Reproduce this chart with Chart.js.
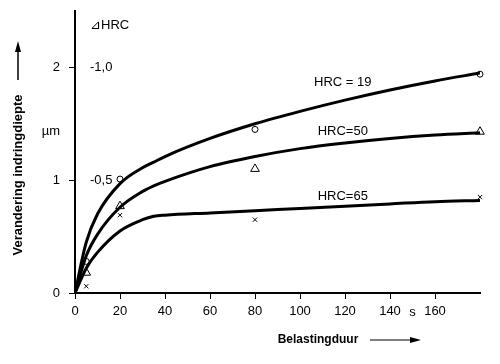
<!DOCTYPE html>
<html>
<head>
<meta charset="utf-8">
<script src="https://cdn.jsdelivr.net/npm/chart.js@4"></script>
<style>
  html, body { margin: 0; padding: 0; background: #fff; }
  #wrap { width: 500px; height: 364px; }
</style>
</head>
<body>
<div id="wrap"><canvas id="grafiek"></canvas></div>
<script>
// meetpunten per hardheid (x = belastingduur in s, y = indringdiepte in µm)
const tijdMeting = [5, 20, 80, 180];
const metingHRC19 = [0.28, 1.01, 1.45, 1.94];
const metingHRC50 = [0.18, 0.77, 1.1, 1.43];
const metingHRC65 = [0.06, 0.69, 0.65, 0.85];

// getekende krommen
const tijdKromme = [0, 5, 10, 20, 30, 35, 40, 60, 80, 100, 120, 140, 160, 180];
const krommeHRC19 = [0, 0.45, 0.7, 0.97, 1.11, 1.16, 1.21, 1.37, 1.5, 1.61, 1.71, 1.8, 1.88, 1.95];
const krommeHRC50 = [0, 0.33, 0.52, 0.76, 0.9, 0.95, 0.99, 1.12, 1.21, 1.28, 1.33, 1.37, 1.4, 1.42];
const krommeHRC65 = [0, 0.22, 0.36, 0.55, 0.65, 0.68, 0.69, 0.71, 0.73, 0.75, 0.77, 0.79, 0.81, 0.82];

// as-labels
const xTicks = [0, 20, 40, 60, 80, 100, 120, 140, 160];
const yTicks = [0, 1, 2];
const deltaTicks = [1, 2];
const deltaLabels = ["-0,5", "-1,0"];
const krommeLabels = ["HRC = 19", "HRC=50", "HRC=65"];
const labelPos = [[119, 1.87], [119, 1.43], [119, 0.86]];

const smal = { family: "'Liberation Sans', Arial, sans-serif", size: 13 };
const vet = "'Liberation Sans', Arial, sans-serif";

const punten = (ys) => tijdMeting.map((x, i) => ({ x: x, y: ys[i] }));
const kromme = (ys) => tijdKromme.map((x, i) => ({ x: x, y: ys[i] }));

function lijn(ys) {
  return {
    type: "line",
    data: kromme(ys),
    borderColor: "#000",
    borderWidth: 3,
    pointRadius: 0,
    cubicInterpolationMode: "monotone",
    fill: false,
  };
}

function meting(ys, stijl, r) {
  return {
    type: "scatter",
    data: punten(ys),
    pointStyle: stijl,
    pointRadius: r,
    borderColor: "#000",
    backgroundColor: "#fff",
    borderWidth: 1,
    clip: false,
  };
}

// geen extra ruimte boven/onder voor de aslabels
const geenPadding = (s) => { s.paddingTop = 0; s.paddingBottom = 0; };

// extra teksten en pijlen
const teksten = {
  id: "teksten",
  afterDraw(chart) {
    const ctx = chart.ctx;
    const x = chart.scales.x;
    const y = chart.scales.y;
    ctx.save();
    ctx.fillStyle = "#000";
    ctx.strokeStyle = "#000";

    ctx.font = "13px " + vet;
    ctx.textAlign = "center";
    ctx.textBaseline = "middle";
    krommeLabels.forEach((t, i) => {
      ctx.fillText(t, x.getPixelForValue(labelPos[i][0]), y.getPixelForValue(labelPos[i][1]));
    });
    ctx.fillText("s", x.getPixelForValue(150), 312);

    // x-titel
    ctx.font = "bold 12px " + vet;
    ctx.fillText("Belastingduur", 318, 340);
    ctx.lineWidth = 1.2;
    ctx.beginPath();
    ctx.moveTo(370, 340);
    ctx.lineTo(414, 340);
    ctx.stroke();
    ctx.beginPath();
    ctx.moveTo(421, 340);
    ctx.lineTo(410, 337);
    ctx.lineTo(410, 343);
    ctx.closePath();
    ctx.fill();

    // y-titel
    ctx.font = "bold 13px " + vet;
    ctx.save();
    ctx.translate(18, 175);
    ctx.rotate(-Math.PI / 2);
    ctx.fillText("Verandering indringdiepte", 0, 0);
    ctx.restore();
    ctx.lineWidth = 1.5;
    ctx.beginPath();
    ctx.moveTo(18, 80);
    ctx.lineTo(18, 49);
    ctx.stroke();
    ctx.beginPath();
    ctx.moveTo(18, 41);
    ctx.lineTo(15, 52);
    ctx.lineTo(21, 52);
    ctx.closePath();
    ctx.fill();
    ctx.restore();
  },
};

new Chart(document.getElementById("grafiek"), {
  data: {
    datasets: [
      lijn(krommeHRC19),
      lijn(krommeHRC50),
      lijn(krommeHRC65),
      meting(metingHRC19, "circle", 3),
      meting(metingHRC50, "triangle", 5),
      meting(metingHRC65, "crossRot", 3),
    ],
  },
  options: {
    responsive: true,
    maintainAspectRatio: false,
    animation: false,
    layout: { padding: { top: 11, right: 20, left: 0, bottom: 0 } },
    plugins: {
      legend: { display: false },
      tooltip: { enabled: false },
    },
    scales: {
      x: {
        type: "linear",
        min: 0,
        max: 180,
        afterBuildTicks: (s) => { s.ticks = xTicks.map((v) => ({ value: v })); },
        afterFit: (s) => { s.height = 71; },
        grid: { display: true, drawOnChartArea: false, tickLength: 6, color: "#000", lineWidth: 1 },
        border: { display: true, color: "#000", width: 2 },
        ticks: {
          color: "#000",
          font: smal,
          padding: 5,
          maxRotation: 0,
          autoSkip: false,
        },
      },
      y: {
        type: "linear",
        position: "left",
        weight: 1,
        min: 0,
        max: 2.5,
        afterBuildTicks: (s) => {
          s.ticks = yTicks.map((v) => ({ value: v })).concat([{ value: 1.43 }]);
        },
        afterFit: (s) => { s.width = 75; geenPadding(s); },
        grid: {
          display: true,
          drawOnChartArea: false,
          tickLength: 6,
          color: "#000",
          tickColor: (c) => (c.tick && c.tick.value === 1.43 ? "rgba(0,0,0,0)" : "#000"),
        },
        border: { display: true, color: "#000", width: 2 },
        ticks: {
          color: "#000",
          font: smal,
          padding: 9,
          autoSkip: false,
          callback: (v) => (v === 1.43 ? "µm" : String(v)),
        },
      },
      delta: {
        type: "linear",
        position: "left",
        weight: 0,
        min: 0,
        max: 2.5,
        afterBuildTicks: (s) => {
          s.ticks = deltaTicks.map((v) => ({ value: v })).concat([{ value: 2.37 }]);
        },
        afterFit: (s) => { s.width = 0; geenPadding(s); },
        grid: { display: false },
        border: { display: false },
        ticks: {
          mirror: true,
          color: "#000",
          font: smal,
          padding: 15,
          autoSkip: false,
          callback: (v) => (v === 2.37 ? "⊿HRC" : deltaLabels[deltaTicks.indexOf(v)]),
        },
      },
    },
  },
  plugins: [teksten],
});
</script>
</body>
</html>
